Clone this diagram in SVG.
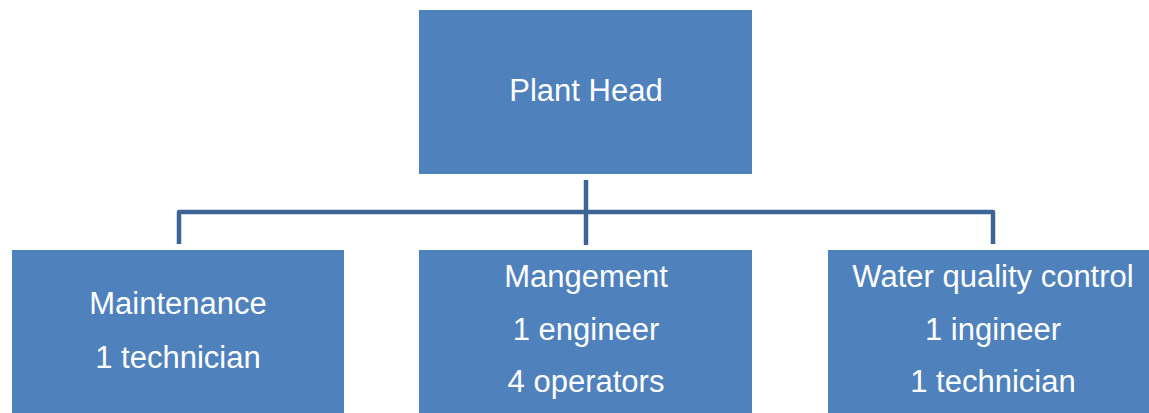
<svg xmlns="http://www.w3.org/2000/svg" width="1149" height="413" viewBox="0 0 1149 413">
<style>
.box{fill:#4f81bd;}
.t{font-family:"Liberation Sans",Arial,sans-serif;font-size:31px;fill:#ffffff;text-anchor:middle;}
.c{fill:none;stroke:#3c6494;stroke-width:4.5;stroke-linejoin:round;}
</style>
<rect width="1149" height="413" fill="#ffffff"/>
<g id="connectors">
<path class="c" d="M586,180 V245"/>
<path class="c" d="M179,244 V212 H993 V244"/>
</g>
<g id="plant-head">
<rect class="box" x="419" y="10" width="333" height="164"/>
<text class="t" x="586" y="101">Plant Head</text>
</g>
<g id="maintenance">
<rect class="box" x="12" y="250" width="332" height="170"/>
<text class="t" x="178" y="314">Maintenance</text>
<text class="t" x="178" y="368">1 technician</text>
</g>
<g id="management">
<rect class="box" x="419" y="250" width="333" height="170"/>
<text class="t" x="586" y="287">Mangement</text>
<text class="t" x="586" y="340">1 engineer</text>
<text class="t" x="586" y="392">4 operators</text>
</g>
<g id="water-quality">
<rect class="box" x="828" y="250" width="332" height="170"/>
<text class="t" x="993" y="287">Water quality control</text>
<text class="t" x="993" y="340">1 ingineer</text>
<text class="t" x="993" y="392">1 technician</text>
</g>
</svg>
